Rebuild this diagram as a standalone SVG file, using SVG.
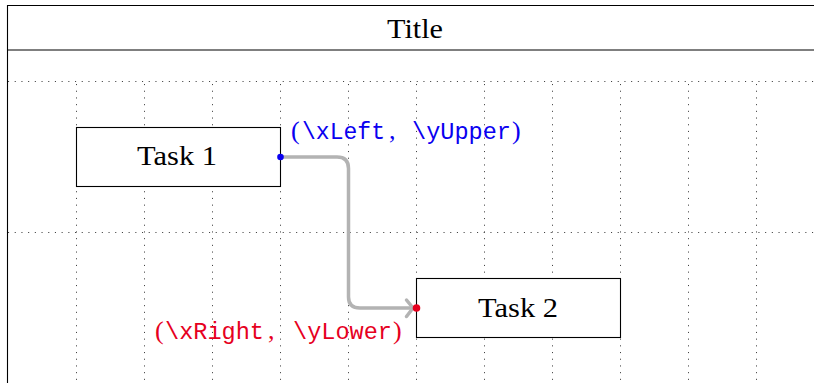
<svg xmlns="http://www.w3.org/2000/svg" width="814" height="383" viewBox="0 0 814 383">
<style>
.grid{stroke:#444;stroke-width:1;stroke-dasharray:1.1 5.6;fill:none}
.frame{stroke:#000;stroke-width:1.1;fill:none}
.box{fill:#fff;stroke:#000;stroke-width:1.1}
.rm{font-family:"Liberation Serif",serif;font-size:27px;fill:#000}
.tt{font-family:"Liberation Mono",monospace;font-size:24px}
.par{font-family:"Liberation Serif",serif;font-size:26px}
.conn{fill:none;stroke:#b3b3b3;stroke-width:3.5;stroke-linecap:round;stroke-linejoin:round}
.blue{fill:#0a00f0}
.red{fill:#e6001e}
</style>
<rect x="0" y="0" width="814" height="383" fill="#fff"/>
<g id="grid">
<line class="grid" x1="8" y1="81.5" x2="814" y2="81.5"/>
<line class="grid" x1="8" y1="232.5" x2="814" y2="232.5"/>
<line class="grid" x1="76.5" y1="84" x2="76.5" y2="383"/>
<line class="grid" x1="144.5" y1="84" x2="144.5" y2="383"/>
<line class="grid" x1="212.5" y1="84" x2="212.5" y2="383"/>
<line class="grid" x1="280.5" y1="84" x2="280.5" y2="383"/>
<line class="grid" x1="348.5" y1="84" x2="348.5" y2="383"/>
<line class="grid" x1="416.5" y1="84" x2="416.5" y2="383"/>
<line class="grid" x1="484.5" y1="84" x2="484.5" y2="383"/>
<line class="grid" x1="552.5" y1="84" x2="552.5" y2="383"/>
<line class="grid" x1="620.5" y1="84" x2="620.5" y2="383"/>
<line class="grid" x1="688.5" y1="84" x2="688.5" y2="383"/>
<line class="grid" x1="756.5" y1="84" x2="756.5" y2="383"/>
</g>
<g id="frame">
<path class="frame" d="M7.5,383 V5.5 H814"/>
<line class="frame" x1="7.5" y1="50" x2="814" y2="50"/>
<text class="rm" x="415" y="38" text-anchor="middle" textLength="56" lengthAdjust="spacingAndGlyphs">Title</text>
</g>
<g id="task1">
<rect class="box" x="76.5" y="127.5" width="204" height="59"/>
<text class="rm" x="177" y="165" text-anchor="middle" textLength="80" lengthAdjust="spacingAndGlyphs">Task 1</text>
</g>
<g id="task2">
<rect class="box" x="416.5" y="278.5" width="204" height="59"/>
<text class="rm" x="518" y="316.5" text-anchor="middle" textLength="80" lengthAdjust="spacingAndGlyphs">Task 2</text>
</g>
<g id="connectors">
<path class="conn" d="M280.5,157 H337 Q348.5,157 348.5,168.5 V297 Q348.5,308 360,308 H412"/>
<path class="conn" d="M406.5,300 L413,308 L406.5,316.5"/>
</g>
<g id="points">
<circle class="blue" cx="280.5" cy="157" r="3.3"/>
<circle class="red" cx="416.5" cy="308" r="3.8"/>
</g>
<g id="label-upper" class="blue">
<text class="par" x="291" y="139">(</text>
<text class="tt" x="302" y="139" textLength="83" lengthAdjust="spacingAndGlyphs">\xLeft</text>
<text class="par" x="389" y="139">,</text>
<text class="tt" x="412" y="139" textLength="99" lengthAdjust="spacingAndGlyphs">\yUpper</text>
<text class="par" x="512" y="139">)</text>
</g>
<g id="label-lower" class="red">
<text class="par" x="155" y="339">(</text>
<text class="tt" x="165" y="339" textLength="99" lengthAdjust="spacingAndGlyphs">\xRight</text>
<text class="par" x="268" y="339">,</text>
<text class="tt" x="293" y="339" textLength="99" lengthAdjust="spacingAndGlyphs">\yLower</text>
<text class="par" x="393" y="339">)</text>
</g>
</svg>
